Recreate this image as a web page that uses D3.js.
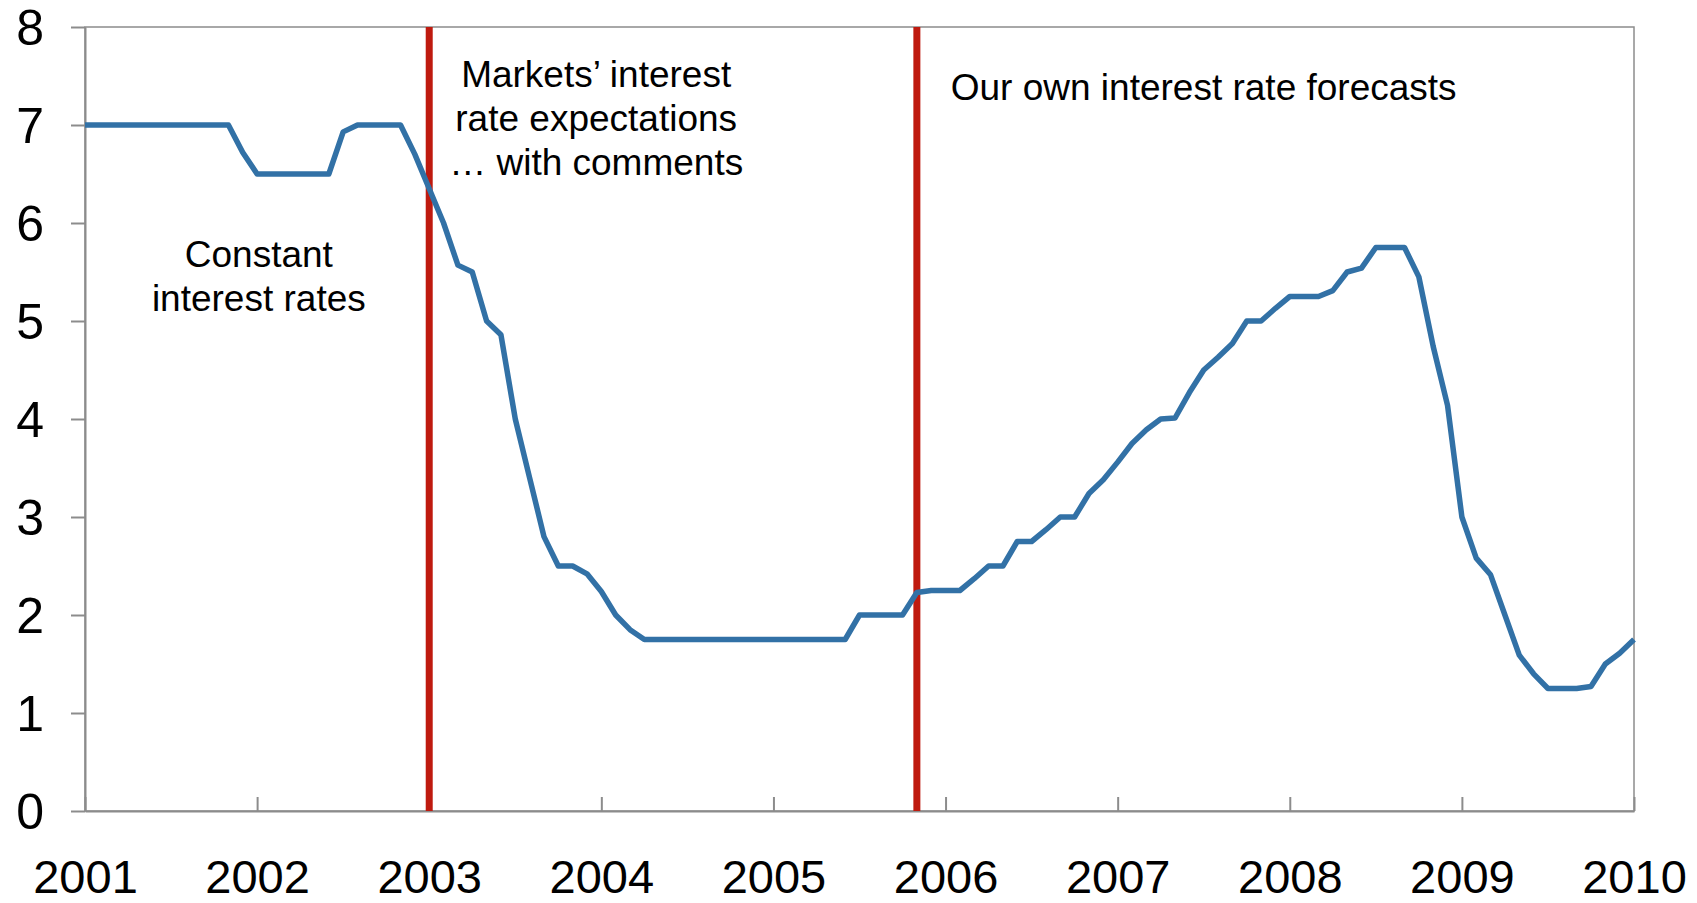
<!DOCTYPE html>
<html>
<head>
<meta charset="utf-8">
<script src="https://cdn.jsdelivr.net/npm/d3@7"></script>
<style>
  html, body { margin: 0; padding: 0; background: #ffffff; overflow: hidden; }
  svg { display: block; }
  text { font-family: "Liberation Sans", Arial, Helvetica, sans-serif; fill: #000; }
</style>
</head>
<body>
<svg id="chart" width="1697" height="903"></svg>
<script>
// Policy rate path, monthly from January 2001 to January 2010 (per cent)
const startYear = 2001;
const rates = [
  7.00, 7.00, 7.00, 7.00, 7.00, 7.00, 7.00, 7.00, 7.00, 7.00, 7.00, 6.72,   // 2001
  6.50, 6.50, 6.50, 6.50, 6.50, 6.50, 6.93, 7.00, 7.00, 7.00, 7.00, 6.70,   // 2002
  6.35, 6.00, 5.57, 5.50, 5.00, 4.86, 4.00, 3.40, 2.80, 2.50, 2.50, 2.42,   // 2003
  2.24, 2.00, 1.85, 1.75, 1.75, 1.75, 1.75, 1.75, 1.75, 1.75, 1.75, 1.75,   // 2004
  1.75, 1.75, 1.75, 1.75, 1.75, 1.75, 2.00, 2.00, 2.00, 2.00, 2.23, 2.25,   // 2005
  2.25, 2.25, 2.37, 2.50, 2.50, 2.75, 2.75, 2.87, 3.00, 3.00, 3.24, 3.38,   // 2006
  3.56, 3.75, 3.89, 4.00, 4.01, 4.27, 4.50, 4.63, 4.77, 5.00, 5.00, 5.13,   // 2007
  5.25, 5.25, 5.25, 5.31, 5.50, 5.54, 5.75, 5.75, 5.75, 5.45, 4.74, 4.14,   // 2008
  3.00, 2.58, 2.41, 2.00, 1.59, 1.40, 1.25, 1.25, 1.25, 1.27, 1.50, 1.61,   // 2009
  1.75                                                                      // 2010
];

// Axis ticks
const yearTicks = [2001, 2002, 2003, 2004, 2005, 2006, 2007, 2008, 2009, 2010];
const rateTicks = [0, 1, 2, 3, 4, 5, 6, 7, 8];

// Dates at which the basis for the rate path changed
const regimeBreaks = [2003, 2005 + 10 / 12];

// Period annotations
const regimeLabels = [
  { lines: ["Constant", "interest rates"], at: 2002.01, rate: 5.55, anchor: "middle" },
  { lines: ["Markets\u2019 interest", "rate expectations", "\u2026 with comments"], at: 2003.97, rate: 7.39, anchor: "middle" },
  { lines: ["Our own interest rate forecasts"], at: 2006.03, rate: 7.255, anchor: "start" }
];

const width = 1697, height = 903;
const margin = { top: 27, right: 63, bottom: 92, left: 85 };
const innerW = width - margin.left - margin.right;
const innerH = height - margin.top - margin.bottom;

const svg = d3.select("#chart");
svg.append("rect").attr("width", width).attr("height", height).attr("fill", "#fff");

const g = svg.append("g").attr("transform", `translate(${margin.left},${margin.top})`);

const x = d3.scaleLinear().domain([2001, 2010]).range([0, innerW]);
const y = d3.scaleLinear().domain([0, 8]).range([innerH, 0]);

const axisColor = "#8c8c8c";

// Plot frame (top and right edges)
g.append("rect")
  .attr("x", 0).attr("y", 0)
  .attr("width", innerW).attr("height", innerH)
  .attr("fill", "none")
  .attr("stroke", axisColor)
  .attr("stroke-width", 1.5);

// Y axis
const yAxis = g.append("g")
  .call(d3.axisLeft(y).tickValues(rateTicks).tickSize(14).tickSizeOuter(0).tickPadding(27).tickFormat(d3.format("d")));
yAxis.select(".domain").attr("stroke", axisColor).attr("stroke-width", 2);
yAxis.selectAll(".tick line").attr("stroke", axisColor).attr("stroke-width", 2);
yAxis.selectAll(".tick text")
  .attr("font-size", 50)
  .attr("dy", "0.35em")
  .attr("fill", "#000")
  .attr("font-family", "Liberation Sans, Arial, sans-serif");

// X axis with ticks pointing into the plot
const xAxis = g.append("g")
  .attr("transform", `translate(0,${innerH})`)
  .call(d3.axisBottom(x).tickValues(yearTicks).tickSizeInner(-14).tickSizeOuter(0).tickFormat(d3.format("d")));
xAxis.select(".domain").attr("stroke", axisColor).attr("stroke-width", 2);
xAxis.selectAll(".tick line").attr("stroke", axisColor).attr("stroke-width", 2);
xAxis.selectAll(".tick text")
  .attr("y", 82)
  .attr("dy", null)
  .attr("font-size", 47)
  .attr("fill", "#000")
  .attr("font-family", "Liberation Sans, Arial, sans-serif");

// Vertical separators between regimes
g.selectAll("line.regime")
  .data(regimeBreaks)
  .join("line")
  .attr("class", "regime")
  .attr("x1", d => x(d)).attr("x2", d => x(d))
  .attr("y1", y(8)).attr("y2", y(0))
  .attr("stroke", "#bf1a0f")
  .attr("stroke-width", 7);

// Rate path
const line = d3.line()
  .x((d, i) => x(startYear + i / 12))
  .y(d => y(d));

g.append("path")
  .datum(rates)
  .attr("fill", "none")
  .attr("stroke", "#3271a6")
  .attr("stroke-width", 5.5)
  .attr("stroke-linejoin", "round")
  .attr("d", line);

// Regime annotations
const lineGap = 44;
regimeLabels.forEach(lbl => {
  const t = g.append("text")
    .attr("x", x(lbl.at))
    .attr("y", y(lbl.rate))
    .attr("text-anchor", lbl.anchor)
    .attr("font-size", 37);
  lbl.lines.forEach((s, i) => {
    t.append("tspan")
      .attr("x", x(lbl.at))
      .attr("dy", i === 0 ? 0 : lineGap)
      .text(s);
  });
});
</script>
</body>
</html>
